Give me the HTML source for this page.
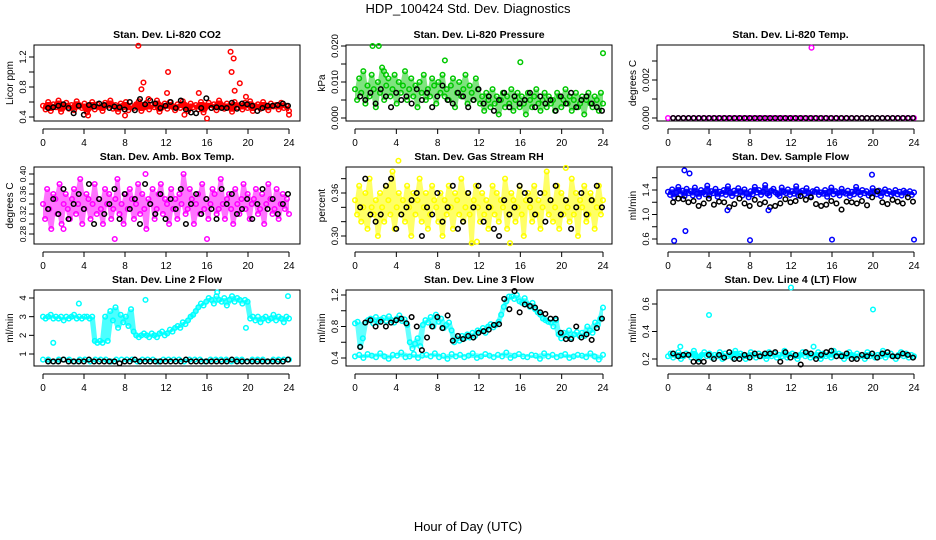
<!DOCTYPE html>
<html><head><meta charset="utf-8"><style>
html,body{margin:0;padding:0;background:#fff;width:936px;height:540px;overflow:hidden}
svg{display:block;font-family:"Liberation Sans",sans-serif}
</style></head><body>
<svg id="chart" width="936" height="540">
<text x="468" y="13" text-anchor="middle" font-size="13">HDP_100424  Std. Dev. Diagnostics</text>
<text x="468" y="531" text-anchor="middle" font-size="13">Hour of Day (UTC)</text>
</svg>
<script>
// ---- data (values in given units) ----
const hourTicks = [0,4,8,12,16,20,24];
const co2Band = [55,50,60,48,57,53,62,47,55,59,51,56,49,61,54,52,58,46,55,60,50,57,53,48,59,55,62,51,56,47,58,53,60,49,55,52,57,61,48,54,59,50,56,53,62,47,55,58,51,60,54,49,57,52,61,55,48,58,53,56,50,60,46,55,59,52,57,49,62,54,51,58,55,47,60,53,56,50,59,52,61,48,55,57,51,60,53,49,58,54,56,50,59,52,55,48];
const co2Black = [52,53,55,57,52,45,55,43,56,54,58,56,52,54,53,50,60,49,64,57,62,58,52,55,60,52,62,50,46,45,52,65,52,53,52,52,59,51,58,57,55,48,52,55,55,56,58,55];
const co2OutHours = [9.3,9.6,9.8,10.3,12.2,12.1,18.3,18.6,18.4,18.7,19.2,15.2,16.0,8.0,19.8,24.0,4.4,13.8];
const co2OutVals = [135,77,86,64,100,72,127,118,100,75,85,72,38,42,67,43,42,43];

const presBand = [8,5,11,7,13,4,9,6,12,8,3,10,7,14,5,9,11,6,8,12,4,10,7,9,13,5,8,11,6,9,3,10,7,12,5,8,6,11,9,4,10,7,12,6,8,5,9,11,3,7,10,6,8,12,4,9,7,5,11,8,4,6,2,7,5,3,8,4,6,1,5,7,3,6,4,8,2,5,7,3,6,4,1,7,5,3,6,8,4,2,5,7,3,6,4,5,2,7,6,3,5,8,4,6,2,5,7,3,4,6,1,5,7,4,3,6,5,2,7,4];
const presBlack = [6,5,7,4,8,6,3,7,5,6,4,8,5,7,3,6,9,5,4,7,6,3,5,8,4,6,2,5,7,3,6,4,5,7,3,6,4,5,2,6,4,7,3,5,6,4,3,2];
const presOutHours = [1.7,2.3,8.7,16.0,24.0,2.8,3.0];
const presOutVals = [20,20,16,15.5,18,13,12];

const tempBand = [0,0,0,0,0,0,0,0,0,0,0,0,0,0,0,0,0,0,0,0,0,0,0,0,0,0,0,0,0,0,0,0,0,0,0,0,0,0,0,0,0,0,0,0,0,0,0,0];
const tempBlack = [0,0,0,0,0,0,0,0,0,0,0,0,0,0,0,0,0,0,0,0,0,0,0,0,0,0,0,0,0,0,0,0,0,0,0,0,0,0,0,0,0,0,0,0,0,0,0,0];
const tempOutHours = [14.0];
const tempOutVals = [37];

const boxBand = [34,31,37,33,29,36,35,32,38,30,34,36,33,31,35,37,32,34,39,30,33,36,35,31,34,38,32,35,33,30,37,34,36,31,33,35,39,32,34,30,36,33,37,35,31,34,38,32,36,33,29,35,34,37,31,33,36,38,32,35,34,30,37,33,35,31,36,34,40,32,33,37,35,30,34,36,32,38,33,35,31,34,37,36,32,33,39,34,31,35,36,33,30,37,34,32,35,38,33,36,31,34,35,37,32,33,36,30,34,38,35,32,33,37,31,34,36,33,35,32];
const boxBlack = [33,35,32,37,31,34,36,33,38,30,35,32,34,37,31,36,33,35,30,38,34,32,36,31,35,33,37,30,34,36,32,35,33,31,37,34,36,32,33,35,31,34,37,33,35,32,34,36];
const boxOutHours = [7.0,16.0,2.0,10.0];
const boxOutVals = [27,27,29,40];

const rhBand = [35,33,37,32,34,36,31,38,34,33,35,30,36,34,32,37,35,33,39,31,34,36,33,35,32,37,34,30,36,33,35,38,32,34,36,31,33,37,35,34,32,36,30,35,33,37,34,31,36,35,33,38,32,34,36,33,29,35,37,34,32,36,33,35,31,34,37,33,36,32,35,34,38,31,33,36,35,32,34,37,33,30,35,36,34,32,37,33,35,31,34,36,39,33,35,32,34,37,31,36,33,35,34,32,38,33,36,30,35,34,37,32,33,36,35,31,34,37,33,35];
const rhBlack = [34,38,33,32,33,37,38,31,33,34,35,36,30,34,33,36,32,34,37,31,32,36,34,37,32,34,31,30,35,33,34,37,36,35,33,36,32,35,37,33,35,31,34,36,33,35,37,34];
const rhOutHours = [4.2,15.0,11.8,20.4];
const rhOutVals = [40.5,29,29.2,39.5];

const flowBand = [137,132,141,128,136,145,133,139,130,142,135,138,131,144,134,129,140,136,133,147,131,138,135,142,129,137,134,140,132,146,136,130,139,134,143,137,131,141,135,128,138,133,145,136,140,132,137,148,134,131,139,142,136,133,130,144,137,135,141,132,138,134,146,131,136,139,133,143,135,130,138,137,141,132,136,134,140,129,137,144,133,138,135,131,142,136,134,139,130,137,133,145,136,132,140,135,138,131,134,143,137,133,139,130,136,141,134,138,132,135,140,133,137,131,139,136,134,138,132,136];
const flowBlack = [120,126,125,120,122,114,118,126,116,121,120,112,117,126,118,114,124,117,120,112,114,118,125,120,122,130,124,128,117,114,116,122,118,108,121,120,118,122,115,128,138,120,117,124,121,118,128,121];
const flowOutHours = [0.6,1.7,1.6,2.1,8.0,16.0,24.0,19.9,5.8,9.8];
const flowOutVals = [57,73,172,167,58,59,59,165,107,107];

const line2Band = [30,29,30,31,29,30,29,30,28,30,29,30,31,29,30,29,30,30,29,30,17,16,17,16,30,17,33,28,35,24,31,27,30,25,34,22,20,19,20,21,20,19,21,20,19,21,22,20,21,23,22,24,25,24,27,26,28,30,31,33,35,37,36,38,40,39,37,41,39,38,40,36,39,41,38,40,39,37,39,38,29,30,28,30,27,29,30,28,29,31,28,30,29,27,30,29];
const line2Low = [7,7,6,7,7,7,6,7,7,6,7,7,7,6,7,7,7,7,6,7,7,7,6,7,7,7,7,6,7,7,7,6,7,7,7,7,6,7,7,6,7,7,7,6,7,7,7,7];
const line2Black = [6,6,6,7,6,6,6,6,7,6,6,6,6,6,5,6,6,7,6,6,6,6,6,6,6,6,6,7,6,6,6,6,6,6,6,6,7,6,6,6,6,6,6,6,6,6,6,7];
const line2OutHours = [1.0,3.5,10.0,19.8,23.9,17.0];
const line2OutVals = [16,37,39,24,41,43];

const line3Band = [84,86,55,65,85,88,90,84,92,86,89,91,87,93,88,85,90,94,87,89,82,60,52,58,65,55,82,88,85,92,80,95,86,90,78,82,85,75,60,65,62,68,65,70,66,72,68,75,74,78,72,80,83,79,82,86,95,105,112,118,118,115,120,112,110,116,108,105,110,102,98,95,90,88,86,85,80,88,70,65,72,68,75,66,70,73,68,72,68,80,75,72,85,82,90,104];
const line3Low = [42,44,40,45,43,41,46,42,39,44,43,47,41,42,45,40,43,44,42,46,41,43,39,45,42,44,41,43,46,40,42,45,43,41,44,42,47,40,43,45,42,41,44,43,39,46,42,44,41,43,45,40,42,44,43,41,46,42,38,44];
const line3Black = [54,85,88,80,86,80,85,88,90,84,92,80,50,66,80,92,78,94,62,68,64,68,66,72,74,76,82,83,115,102,125,98,108,106,104,98,96,90,90,72,64,64,80,66,70,63,78,90];

const line4Band = [22,24,21,23,25,20,22,24,23,21,26,22,20,23,25,22,24,21,23,22,25,20,24,22,23,21,26,22,24,23,20,22,25,23,21,24,22,23,20,25,22,24,21,23,22,26,21,23,24,22,20,23,25,22,24,21,23,22,25,20,24,22,23,21,26,22,24,23,20,22,25,23,21,24,22,23,20,25,22,24,21,23,22,26,21,23,24,22,20,23,25,22,24,21,23,22];
const line4Black = [24,22,23,23,18,18,18,23,20,23,21,25,20,20,23,21,24,22,24,24,25,18,25,21,23,16,25,24,20,23,25,26,22,22,24,20,20,23,22,24,21,24,25,22,22,24,23,21];
const line4OutHours = [4.0,12.0,20.0,1.2,14.2];
const line4OutVals = [52,72,56,29,29];

// ---- layout ----
const colL=[34,346,657], colR=[300,612,924], colX0=[43,355,668], colX24=[289,603,914];
const rowT=[45,167,290], rowB=[121,244,366];
const NS='http://www.w3.org/2000/svg';
const svg=document.getElementById('chart');
function mk(tag,attrs,parent){const e=document.createElementNS(NS,tag);for(const k in attrs)e.setAttribute(k,attrs[k]);(parent||svg).appendChild(e);return e;}

const panels=[
 {c:0,r:0,title:'Stan. Dev. Li-820 CO2',ylab:'Licor ppm',unit:0.01,vA:0.4,yA:117,vB:1.2,yB:57,ticks:[0.4,0.6,0.8,1.0,1.2],labs:['0.4',null,'0.8',null,'1.2'],col:'#ff0000',op:1,bands:[co2Band],black:co2Black,oh:co2OutHours,ov:co2OutVals},
 {c:1,r:0,title:'Stan. Dev. Li-820 Pressure',ylab:'kPa',unit:0.001,vA:0,yA:118,vB:0.02,yB:46,ticks:[0,0.005,0.01,0.015,0.02],labs:['0.000',null,'0.010',null,'0.020'],col:'#00c800',op:0.5,bands:[presBand],black:presBlack,oh:presOutHours,ov:presOutVals},
 {c:2,r:0,title:'Stan. Dev. Li-820 Temp.',ylab:'degrees C',unit:0.0001,vA:0,yA:118,vB:0.002,yB:80,ticks:[0,0.001,0.002,0.003],labs:['0.000',null,'0.002',null],col:'#ff00ff',op:1,bands:[tempBand],black:tempBlack,oh:tempOutHours,ov:tempOutVals},
 {c:0,r:1,title:'Stan. Dev. Amb. Box Temp.',ylab:'degrees C',unit:0.01,vA:0.28,yA:234,vB:0.40,yB:174,ticks:[0.28,0.30,0.32,0.34,0.36,0.38,0.40],labs:['0.28',null,'0.32',null,'0.36',null,'0.40'],col:'#ff00ff',op:0.55,bands:[boxBand],black:boxBlack,oh:boxOutHours,ov:boxOutVals},
 {c:1,r:1,title:'Stan. Dev. Gas Stream RH',ylab:'percent',unit:0.01,vA:0.30,yA:236,vB:0.36,yB:193,ticks:[0.30,0.32,0.34,0.36,0.38],labs:['0.30',null,null,'0.36',null],col:'#ffff00',op:0.6,bands:[rhBand],black:rhBlack,oh:rhOutHours,ov:rhOutVals},
 {c:2,r:1,title:'Stan. Dev. Sample Flow',ylab:'ml/min',unit:0.01,vA:0.6,yA:239,vB:1.4,yB:190,ticks:[0.6,0.8,1.0,1.2,1.4,1.6],labs:['0.6',null,'1.0',null,'1.4',null],col:'#0000ff',op:0.9,bands:[flowBand],black:flowBlack,oh:flowOutHours,ov:flowOutVals},
 {c:0,r:2,title:'Stan. Dev. Line 2 Flow',ylab:'ml/min',unit:0.1,vA:1,yA:354,vB:4,yB:298,ticks:[1,2,3,4],labs:['1','2','3','4'],col:'#00ffff',op:0.7,bands:[line2Band,line2Low],black:line2Black,oh:line2OutHours,ov:line2OutVals},
 {c:1,r:2,title:'Stan. Dev. Line 3 Flow',ylab:'ml/min',unit:0.01,vA:0.4,yA:358,vB:1.2,yB:295,ticks:[0.4,0.6,0.8,1.0,1.2],labs:['0.4',null,'0.8',null,'1.2'],col:'#00ffff',op:0.6,bands:[line3Band,line3Low],black:line3Black,oh:[],ov:[]},
 {c:2,r:2,title:'Stan. Dev. Line 4 (LT) Flow',ylab:'ml/min',unit:0.01,vA:0.2,yA:359,vB:0.6,yB:304,ticks:[0.2,0.4,0.6],labs:['0.2','0.4','0.6'],col:'#00ffff',op:1,bands:[line4Band],black:line4Black,oh:line4OutHours,ov:line4OutVals}
];

panels.forEach((p,pi)=>{
  const L=colL[p.c],R=colR[p.c],T=rowT[p.r],B=rowB[p.r];
  const xs=h=>colX0[p.c]+h*(colX24[p.c]-colX0[p.c])/24;
  const ys=v=>p.yA+(v-p.vA)*(p.yB-p.yA)/(p.vB-p.vA);
  const g=mk('g',{});
  
  
  const t=mk('text',{x:(L+R)/2,y:T-7,'text-anchor':'middle','font-size':'10.5','font-weight':'bold'},g);
  t.textContent=p.title;
  
  
  const fr=mk('rect',{x:L,y:T,width:R-L,height:B-T,fill:'none',stroke:'#000','stroke-width':1},g);
  
  
  // x axis
  const ax=mk('g',{},g);
  
  
  const axY=B+8;
  mk('line',{x1:xs(0),x2:xs(24),y1:axY,y2:axY,stroke:'#000'},ax);
  hourTicks.forEach(h=>{
    mk('line',{x1:xs(h),x2:xs(h),y1:axY,y2:axY+5,stroke:'#000'},ax);
    const tl=mk('text',{x:xs(h),y:axY+17,'text-anchor':'middle','font-size':'10'},ax);
    tl.textContent=h;
    
    
  });
  // y axis
  const ay=mk('g',{},g);
  
  
  p.ticks.forEach((v,i)=>{
    const y=ys(v);
    mk('line',{x1:L-5,x2:L,y1:y,y2:y,stroke:'#000'},ay);
    if(p.labs[i]){
      const fs=(pi===3)?'8.3':'9.5';
      const tl=mk('text',{x:L-8,y:y,'text-anchor':'middle','font-size':fs,transform:`rotate(-90 ${L-8} ${y})`},ay);
      tl.textContent=p.labs[i];
      
      
    }
  });
  const yl=mk('text',{x:L-21,y:(T+B)/2,'text-anchor':'middle','font-size':'10',transform:`rotate(-90 ${L-21} ${(T+B)/2})`},g);
  yl.textContent=p.ylab;
  
  
  // density envelope of each band (rolling min/max of data)
  p.bands.forEach(arr=>{
    const n=arr.length, w=1, top=[], bot=[];
    for(let i=0;i<n;i++){
      let mn=Infinity,mx=-Infinity;
      for(let j=Math.max(0,i-w);j<=Math.min(n-1,i+w);j++){mn=Math.min(mn,arr[j]);mx=Math.max(mx,arr[j]);}
      const h=i*24/(n-1);
      top.push([xs(h),ys(mx*p.unit)]);bot.push([xs(h),ys(mn*p.unit)]);
    }
    const ptsStr=top.concat(bot.reverse()).map(q=>q[0].toFixed(1)+','+q[1].toFixed(1)).join(' ');
    const poly=mk('polygon',{points:ptsStr,fill:p.col,'fill-opacity':p.op,stroke:'none'},g);
    
    
  });
  // points
  const pts=mk('g',{fill:'none','stroke-width':1.5},g);
  
  
  p.bands.forEach(arr=>{
    arr.forEach((v,i)=>{
      const h=i*24/(arr.length-1);
      const c=mk('circle',{cx:xs(h),cy:ys(v*p.unit),r:2.3,stroke:p.col},pts);
      
      
    });
  });
  p.black.forEach((v,i)=>{
    const h=0.5+i*23.4/(p.black.length-1);
    const c=mk('circle',{cx:xs(h),cy:ys(v*p.unit),r:2.3,stroke:'#000'},pts);
    
    
  });
  p.oh.forEach((h,i)=>{
    const c=mk('circle',{cx:xs(h),cy:ys(p.ov[i]*p.unit),r:2.3,stroke:p.col},pts);
    
    
  });
});
</script>
</body></html>
